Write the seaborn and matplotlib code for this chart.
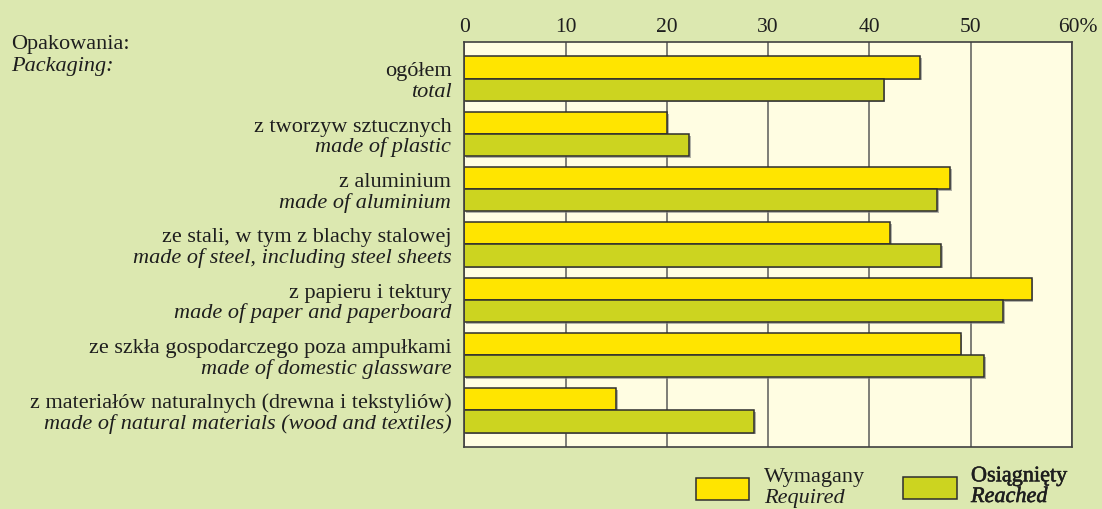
import matplotlib
matplotlib.use("Agg")
import matplotlib.pyplot as plt
import matplotlib.patheffects as pe
from matplotlib.transforms import blended_transform_factory, ScaledTranslation
from matplotlib.patches import Rectangle
import pandas as pd
import seaborn as sns

# Recycling rates of packaging waste (%)
labels_pl = [
    "ogółem",
    "z tworzyw sztucznych",
    "z aluminium",
    "ze stali, w tym z blachy stalowej",
    "z papieru i tektury",
    "ze szkła gospodarczego poza ampułkami",
    "z materiałów naturalnych (drewna i tekstyliów)",
]
labels_en = [
    "total",
    "made of plastic",
    "made of aluminium",
    "made of steel, including steel sheets",
    "made of paper and paperboard",
    "made of domestic glassware",
    "made of natural materials (wood and textiles)",
]
required = [45, 20, 48, 42, 56, 49, 15]
reached = [41.4, 22.2, 46.7, 47.1, 53.2, 51.3, 28.6]
series_pl = ["Wymagany", "Osiągnięty"]
series_en = ["Required", "Reached"]
x_ticks = [0, 10, 20, 30, 40, 50, 60]
x_tick_labels = ["0", "10", "20", "30", "40", "50", "60%"]

BG = "#DCE8B0"
PLOT_BG = "#FFFDE2"
C_REQ = "#FFE500"
C_REA = "#CCD420"
EDGE = "#2E2E2E"
TXT = "#1E1E1E"

plt.rcParams["font.family"] = ["Liberation Serif", "DejaVu Serif"]

df = pd.DataFrame({
    "category": labels_pl * 2,
    "value": required + reached,
    "series": [series_pl[0]] * len(labels_pl) + [series_pl[1]] * len(labels_pl),
})

fig = plt.figure(figsize=(11.02, 5.10), dpi=100, facecolor=BG)
ax = fig.add_axes([0.4213, 0.1222, 0.5515, 0.7929])
ax.set_facecolor(PLOT_BG)

sns.barplot(
    data=df, y="category", x="value", hue="series", orient="h",
    order=labels_pl, hue_order=series_pl,
    palette=[C_REQ, C_REA], saturation=1, width=0.8,
    edgecolor=EDGE, linewidth=1.1, legend=False, ax=ax,
)

for p in ax.patches:
    p.set_path_effects([
        pe.SimplePatchShadow(offset=(1.3, -1.3), shadow_rgbFace="#808080", alpha=0.6),
        pe.Normal(),
    ])

ax.set_xlim(0, 60)
ax.set_ylim(len(labels_pl) - 1 + 0.655, -0.655)
ax.set_xlabel("")
ax.set_ylabel("")

ax.xaxis.tick_top()
ax.set_xticks(x_ticks)
ax.set_xticklabels(x_tick_labels)
ax.tick_params(axis="x", length=0, pad=4.5, labelsize=15.5, labelcolor=TXT)
ax.tick_params(axis="y", length=0, labelleft=False)
last = ax.get_xticklabels()[-1]
last.set_transform(last.get_transform() + ScaledTranslation(0.06, 0, fig.dpi_scale_trans))

ax.grid(axis="x", color="#5A5A5A", linewidth=1.1)
ax.grid(axis="y", visible=False)
ax.set_axisbelow(True)
for s in ax.spines.values():
    s.set_color("#404040")
    s.set_linewidth(1.2)

# Two-line category labels: Polish upright, English italic
trans = blended_transform_factory(ax.transAxes, ax.transData)
for i, (pl, en) in enumerate(zip(labels_pl, labels_en)):
    ax.text(-0.0214, i - 0.058, pl, ha="right", va="baseline",
            transform=trans, fontsize=16, color=TXT)
    ax.text(-0.0214, i + 0.316, en, ha="right", va="baseline",
            transform=trans, fontsize=16, style="italic", color=TXT)

fig.text(0.0100, 0.9033, "Opakowania:", ha="left", va="baseline",
         fontsize=16, color=TXT)
fig.text(0.0100, 0.8614, "Packaging:", ha="left", va="baseline",
         fontsize=16, style="italic", color=TXT)

# Legend
semibold = [pe.Stroke(linewidth=0.4, foreground=TXT), pe.Normal()]
legend_items = [
    (0.6316, 0.0177, C_REQ, 0.6933, None),
    (0.8197, 0.0190, C_REA, 0.8811, semibold),
]
for (rx, ry, col, tx, eff), pl, en in zip(legend_items, series_pl, series_en):
    fig.patches.append(Rectangle((rx, ry), 0.0484, 0.0431, transform=fig.transFigure,
                                 facecolor=col, edgecolor=EDGE, linewidth=1.1,
                                 figure=fig))
    t1 = fig.text(tx, 0.0543, pl, ha="left", va="baseline", fontsize=16, color=TXT)
    t2 = fig.text(tx, 0.0137, en, ha="left", va="baseline", fontsize=16,
                  style="italic", color=TXT)
    if eff:
        t1.set_path_effects(eff)
        t2.set_path_effects(eff)

fig.savefig("out.png", dpi=100, facecolor=BG)
